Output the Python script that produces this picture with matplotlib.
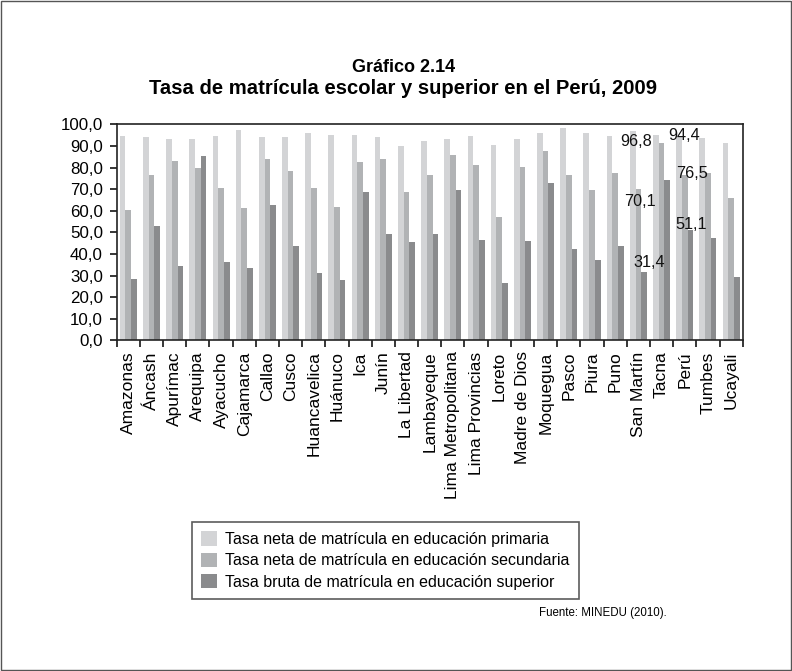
import matplotlib
matplotlib.use("Agg")
import matplotlib.pyplot as plt
import numpy as np
from matplotlib.patches import Rectangle

plt.rcParams['font.family'] = ['Liberation Sans', 'DejaVu Sans']

categories = ["Amazonas", "Áncash", "Apurímac", "Arequipa", "Ayacucho", "Cajamarca",
              "Callao", "Cusco", "Huancavelica", "Huánuco", "Ica", "Junín",
              "La Libertad", "Lambayeque", "Lima Metropolitana", "Lima Provincias",
              "Loreto", "Madre de Dios", "Moquegua", "Pasco", "Piura", "Puno",
              "San Martín", "Tacna", "Perú", "Tumbes", "Ucayali"]

primaria = [94.6, 94.1, 93.2, 93.2, 94.6, 97.4, 94.1, 94.1, 96.0, 95.1, 95.1, 94.1,
            90.0, 92.3, 93.2, 94.6, 90.4, 93.2, 96.0, 98.3, 96.0, 94.6,
            96.8, 95.1, 94.4, 93.7, 91.4]
secundaria = [60.3, 76.5, 83.0, 79.8, 70.5, 61.3, 84.0, 78.4, 70.5, 61.7, 82.6, 84.0,
              68.7, 76.5, 85.8, 81.2, 57.1, 80.2, 87.6, 76.5, 69.6, 77.5,
              70.1, 91.4, 76.5, 77.5, 65.9]
superior = [28.4, 52.9, 34.4, 85.3, 36.3, 33.5, 62.7, 43.7, 31.2, 27.9, 68.7, 49.2,
            45.5, 49.2, 69.6, 46.5, 26.5, 46.0, 72.8, 42.3, 37.2, 43.7,
            31.4, 74.2, 51.1, 47.4, 29.3]

series_names = ["Tasa neta de matrícula en educación primaria",
                "Tasa neta de matrícula en educación secundaria",
                "Tasa bruta de matrícula en educación superior"]
colors = ["#d3d4d6", "#b1b3b5", "#8a8b8d"]

# data labels shown in the reference
label_texts = ["96,8", "70,1", "31,4", "94,4", "76,5", "51,1"]

W, H = 792, 671
fig = plt.figure(figsize=(W / 100, H / 100), dpi=100)
ax = fig.add_axes([116.7 / W, 1 - 340.3 / H, 626 / W, 216 / H])

x = np.arange(len(categories))
bw = 0.245
series = [primaria, secundaria, superior]
handles = []
for i, (vals, col, name) in enumerate(zip(series, colors, series_names)):
    h = ax.bar(x + (i - 1) * bw, vals, width=bw, color=col, label=name, linewidth=0)
    handles.append(h)

sm = categories.index("San Martín")
pe = categories.index("Perú")
lab_pos = [(sm - 0.11, 92.0), (sm + 0.07, 64.3), (sm + 0.45, 35.8),
           (pe - 0.04, 94.6), (pe + 0.3, 77.0), (pe + 0.28, 53.8)]
for t, (px, py) in zip(label_texts, lab_pos):
    ax.text(px, py, t, ha='center', va='center', fontsize=11.7, color='#111111')

ax.set_xlim(-0.5, len(categories) - 0.5)
ax.set_ylim(0, 100)
ax.set_yticks(np.arange(0, 101, 10))
ax.set_yticklabels([f"{v},0" for v in range(0, 101, 10)], fontsize=12.2)
ax.set_xticks(x)
ax.set_xticklabels(categories, rotation=90, fontsize=12.5)
ax.set_xticks(np.arange(-0.5, len(categories), 1), minor=True)
ax.tick_params(axis='x', which='major', length=0, pad=8)
ax.tick_params(axis='x', which='minor', length=5, width=1.1, direction='out')
ax.tick_params(axis='y', length=5, width=1.1, direction='out', pad=5)
for s in ax.spines.values():
    s.set_linewidth(1.2)
    s.set_color('#222222')

fig.text(404 / W, 1 - 67 / H, "Gráfico 2.14", ha='center', va='center',
         fontsize=13, fontweight='bold')
fig.text(403 / W, 1 - 88 / H, "Tasa de matrícula escolar y superior en el Perú, 2009",
         ha='center', va='center', fontsize=14.6, fontweight='bold')

leg = fig.legend(handles=handles, loc='center', bbox_to_anchor=(385.5 / W, 1 - 560.5 / H),
                 fontsize=11.5, frameon=True, fancybox=False, edgecolor='#333333',
                 handlelength=1.0, handleheight=1.0, handletextpad=0.5,
                 borderpad=0.6, labelspacing=0.35)
leg.get_frame().set_linewidth(1.2)

fig.text(667 / W, 1 - 613 / H, "Fuente: MINEDU (2010).", ha='right', va='center',
         fontsize=8.3)

fig.patches.append(Rectangle((1 / W, 1 / H), 1 - 2 / W, 1 - 2 / H, transform=fig.transFigure,
                             fill=False, edgecolor='#555555', linewidth=1.0))

fig.savefig("out.png", dpi=100)
